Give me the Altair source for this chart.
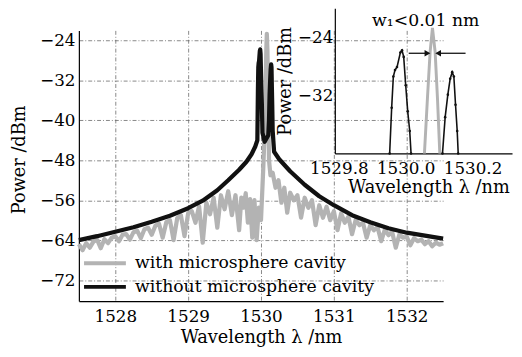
import altair as alt
import pandas as pd

SER_G = "with microsphere cavity"
SER_B = "without microsphere cavity"

# ---- main spectrum, without microsphere cavity (black) ----
black_wl = [1527.50, 1527.75, 1528.00, 1528.25, 1528.50, 1528.75, 1529.00, 1529.20,
            1529.40, 1529.55, 1529.70, 1529.80, 1529.87, 1529.92, 1529.95, 1529.958,
            1529.963, 1529.968, 1529.974, 1529.984, 1529.989, 1529.994, 1530.000,
            1530.006, 1530.012, 1530.020, 1530.050, 1530.100, 1530.110, 1530.118,
            1530.126, 1530.133, 1530.139, 1530.144, 1530.149, 1530.154, 1530.160,
            1530.180, 1530.25, 1530.40, 1530.60, 1530.80, 1531.00, 1531.25, 1531.50,
            1531.75, 1532.00, 1532.25, 1532.50]
black_dbm = [-64.0, -63.2, -62.3, -61.4, -60.3, -59.1, -57.6, -56.1,
             -54.0, -52.0, -49.9, -48.3, -46.8, -45.3, -44.0, -33.7,
             -29.4, -28.5, -28.1, -26.1, -25.8, -26.7, -30.6,
             -34.2, -36.9, -42.5, -44.3, -43.0, -40.0, -35.0,
             -31.9, -29.7, -28.8, -29.4, -33.3, -36.9, -42.0,
             -46.3, -47.8, -50.2, -52.9, -55.2, -57.0, -59.0, -60.4,
             -61.6, -62.5, -63.1, -63.7]

# ---- main spectrum, with microsphere cavity (grey) ----
grey_wl = [1527.50, 1527.55, 1527.60, 1527.65, 1527.70, 1527.75, 1527.80, 1527.85,
           1527.90, 1527.95, 1528.00, 1528.05, 1528.10, 1528.15, 1528.20, 1528.25,
           1528.30, 1528.35, 1528.40, 1528.45, 1528.50, 1528.55, 1528.60, 1528.65,
           1528.70, 1528.75, 1528.80, 1528.85, 1528.90, 1528.95, 1529.00, 1529.05,
           1529.10, 1529.15, 1529.20, 1529.25, 1529.30, 1529.35, 1529.40, 1529.45,
           1529.50, 1529.55, 1529.60, 1529.65, 1529.70, 1529.73, 1529.76, 1529.79,
           1529.82, 1529.85, 1529.88, 1529.91, 1529.94, 1529.97, 1530.00, 1530.03,
           1530.056, 1530.065, 1530.073, 1530.080, 1530.088, 1530.095, 1530.102,
           1530.11, 1530.13, 1530.16, 1530.20, 1530.24, 1530.28, 1530.32, 1530.36,
           1530.40, 1530.45, 1530.50, 1530.55, 1530.60, 1530.65, 1530.70, 1530.75,
           1530.80, 1530.85, 1530.90, 1530.95, 1531.00, 1531.05, 1531.10, 1531.15,
           1531.20, 1531.25, 1531.30, 1531.35, 1531.40, 1531.45, 1531.50, 1531.55,
           1531.60, 1531.65, 1531.70, 1531.75, 1531.80, 1531.85, 1531.90, 1531.95,
           1532.00, 1532.05, 1532.10, 1532.15, 1532.20, 1532.25, 1532.30, 1532.35,
           1532.40, 1532.45, 1532.50]
grey_dbm = [-64.8, -66.0, -64.6, -65.5, -64.3, -63.9, -65.6, -63.8,
            -64.6, -63.5, -63.2, -64.2, -62.9, -62.8, -63.9, -62.4,
            -62.1, -63.6, -61.8, -61.5, -62.9, -61.1, -60.7, -63.5,
            -60.4, -60.0, -64.0, -59.6, -59.0, -63.2, -58.6, -58.2,
            -60.5, -57.2, -64.5, -56.5, -58.8, -55.5, -61.5, -55.0,
            -57.8, -54.2, -59.0, -55.0, -62.0, -55.5, -57.5, -54.6,
            -60.5, -55.8, -63.5, -56.0, -64.0, -57.5, -60.0, -50.0,
            -40.0, -32.4, -26.0, -22.7, -26.0, -32.4, -40.0,
            -48.0, -51.0, -50.5, -53.5, -52.0, -56.5, -53.5, -58.5,
            -54.5, -56.0, -55.0, -59.5, -55.5, -57.5, -56.0, -61.0,
            -57.0, -59.5, -57.3, -60.0, -58.2, -62.0, -58.6, -60.5,
            -59.3, -62.8, -59.9, -61.0, -60.5, -63.5, -61.0, -62.0,
            -61.4, -64.2, -61.9, -63.0, -62.3, -65.5, -62.8, -63.5,
            -63.3, -65.0, -63.6, -64.2, -63.9, -64.8, -64.2, -65.2,
            -64.5, -64.9, -64.6]

# ---- inset (zoom on the peaks) ----
inset_b1_wl = [1529.952, 1529.958, 1529.963, 1529.968, 1529.974, 1529.984, 1529.989,
               1529.994, 1530.000, 1530.006, 1530.012, 1530.016]
inset_b1_dbm = [-40.0, -33.7, -29.4, -28.5, -28.1, -26.1, -25.8, -26.7, -30.6, -34.2, -36.9, -40.0]
inset_g_wl = [1530.056, 1530.065, 1530.073, 1530.080, 1530.088, 1530.095, 1530.102]
inset_g_dbm = [-40.0, -32.4, -26.0, -22.7, -26.0, -32.4, -40.0]
inset_b2_wl = [1530.110, 1530.118, 1530.126, 1530.133, 1530.139, 1530.144, 1530.149,
               1530.154, 1530.157]
inset_b2_dbm = [-40.0, -35.0, -31.9, -29.7, -28.8, -29.4, -33.3, -36.9, -40.0]

# annotation: arrows and label of the linewidth
arrow_from = [1530.009, 1530.179]
arrow_to = [1530.065, 1530.097]
arrow_dbm = [-26.2, -26.2]
arrow_shape = ["triangle-right", "triangle-left"]
label_text = ["w\u2081<0.01 nm"]
label_wl = [1530.06]
label_dbm = [-21.8]

FONT = "DejaVu Serif"
GREY = "#b3b3b3"
BLACK = "#111111"

main_df = pd.DataFrame({
    "wl": grey_wl + black_wl,
    "dbm": grey_dbm + black_dbm,
    "series": [SER_G] * len(grey_wl) + [SER_B] * len(black_wl),
})

grid_kw = dict(gridColor="#6a6a6a", gridDash=[4, 2, 1, 2], gridWidth=0.8)

main_x = alt.X("wl:Q",
               scale=alt.Scale(domain=[1527.5, 1532.5], range=[0, 370], nice=False, zero=False),
               axis=alt.Axis(values=[1528, 1529, 1530, 1531, 1532], format="d",
                             title="Wavelength \u03bb /nm", grid=True, ticks=False,
                             labelPadding=8, titlePadding=4, **grid_kw))
main_y = alt.Y("dbm:Q",
               scale=alt.Scale(domain=[-76.2, -22.0], nice=False, zero=False),
               axis=alt.Axis(values=[-24, -32, -40, -48, -56, -64, -72], format="d",
                             title="Power /dBm", grid=True, ticks=False,
                             labelPadding=4, titlePadding=11, titleY=131, **grid_kw))

main = alt.Chart(main_df).mark_line(strokeWidth=4.3, strokeJoin="round").encode(
    x=main_x,
    y=main_y,
    color=alt.Color("series:N",
                    scale=alt.Scale(domain=[SER_G, SER_B], range=[GREY, BLACK]),
                    legend=alt.Legend(orient="none", legendX=16, legendY=226, title=None,
                                      symbolType="M-2.5,0L2.5,0", symbolSize=289,
                                      symbolStrokeWidth=4, labelFont=FONT,
                                      labelFontSize=17.5, labelColor="#000", labelLimit=0,
                                      labelOffset=20, rowPadding=5)),
)

# inset data frames
inset_lines = pd.DataFrame({
    "wl": inset_b1_wl + inset_b2_wl,
    "dbm": inset_b1_dbm + inset_b2_dbm,
    "seg": ["b1"] * len(inset_b1_wl) + ["b2"] * len(inset_b2_wl),
})
inset_grey = pd.DataFrame({"wl": inset_g_wl, "dbm": inset_g_dbm})
arrows = pd.DataFrame({"wl": arrow_from, "wl2": arrow_to, "dbm": arrow_dbm, "shape": arrow_shape})
heads = pd.DataFrame({"wl": arrow_to, "dbm": arrow_dbm, "shape": arrow_shape})
labels = pd.DataFrame({"wl": label_wl, "dbm": label_dbm, "text": label_text})

in_x = alt.X("wl:Q",
             scale=alt.Scale(domain=[1529.788, 1530.318], range=[260, 440], nice=False, zero=False),
             axis=alt.Axis(values=[1529.8, 1530.0, 1530.2], format=".1f", orient="bottom",
                           offset=-150, title="Wavelength \u03bb /nm", grid=False, ticks=False,
                           labelPadding=7, titlePadding=3, titleX=355))
in_y = alt.Y("dbm:Q",
             scale=alt.Scale(domain=[-40, -20], range=[125, -22.5], nice=False, zero=False),
             axis=alt.Axis(values=[-24, -32], format="d", orient="left", offset=-260,
                           title="Power /dBm", grid=False, ticks=False,
                           labelPadding=2, titlePadding=3))

inset_g_layer = alt.Chart(inset_grey).mark_line(strokeWidth=3, color=GREY).encode(x=in_x, y=in_y)
inset_b_layer = alt.Chart(inset_lines).mark_line(strokeWidth=1.6, color=BLACK).encode(
    x=in_x, y=in_y, detail="seg:N")
inset_pts = alt.Chart(inset_lines).mark_point(filled=True, size=7, color=BLACK, opacity=1).encode(
    x=in_x, y=in_y)
arrow_layer = alt.Chart(arrows).mark_rule(strokeWidth=1.3, color=BLACK).encode(
    x=in_x, x2="wl2:Q", y=in_y)
head_layer = alt.Chart(heads).mark_point(filled=True, size=45, color=BLACK, opacity=1).encode(
    x=in_x, y=in_y, shape=alt.Shape("shape:N", scale=None, legend=None))
text_layer = alt.Chart(labels).mark_text(font=FONT, fontSize=17.5, color="#000").encode(
    x=in_x, y=in_y, text="text:N")

inset = alt.layer(inset_g_layer, inset_b_layer, inset_pts, arrow_layer, head_layer, text_layer)

chart = alt.layer(main, inset).resolve_scale(x="independent", y="independent").properties(
    width=370, height=275,
    autosize=alt.AutoSizeParams(type="none"),
    padding={"left": 72, "top": 20, "right": 72, "bottom": 54},
).configure_view(stroke=None).configure_axis(
    labelFont=FONT, labelFontSize=17, labelColor="#000",
    titleFont=FONT, titleFontSize=18, titleFontWeight="normal", titleColor="#000",
    domainColor="#000", domainWidth=1.2,
)

chart.save("out.html", embed_options={"renderer": "svg", "actions": False})
